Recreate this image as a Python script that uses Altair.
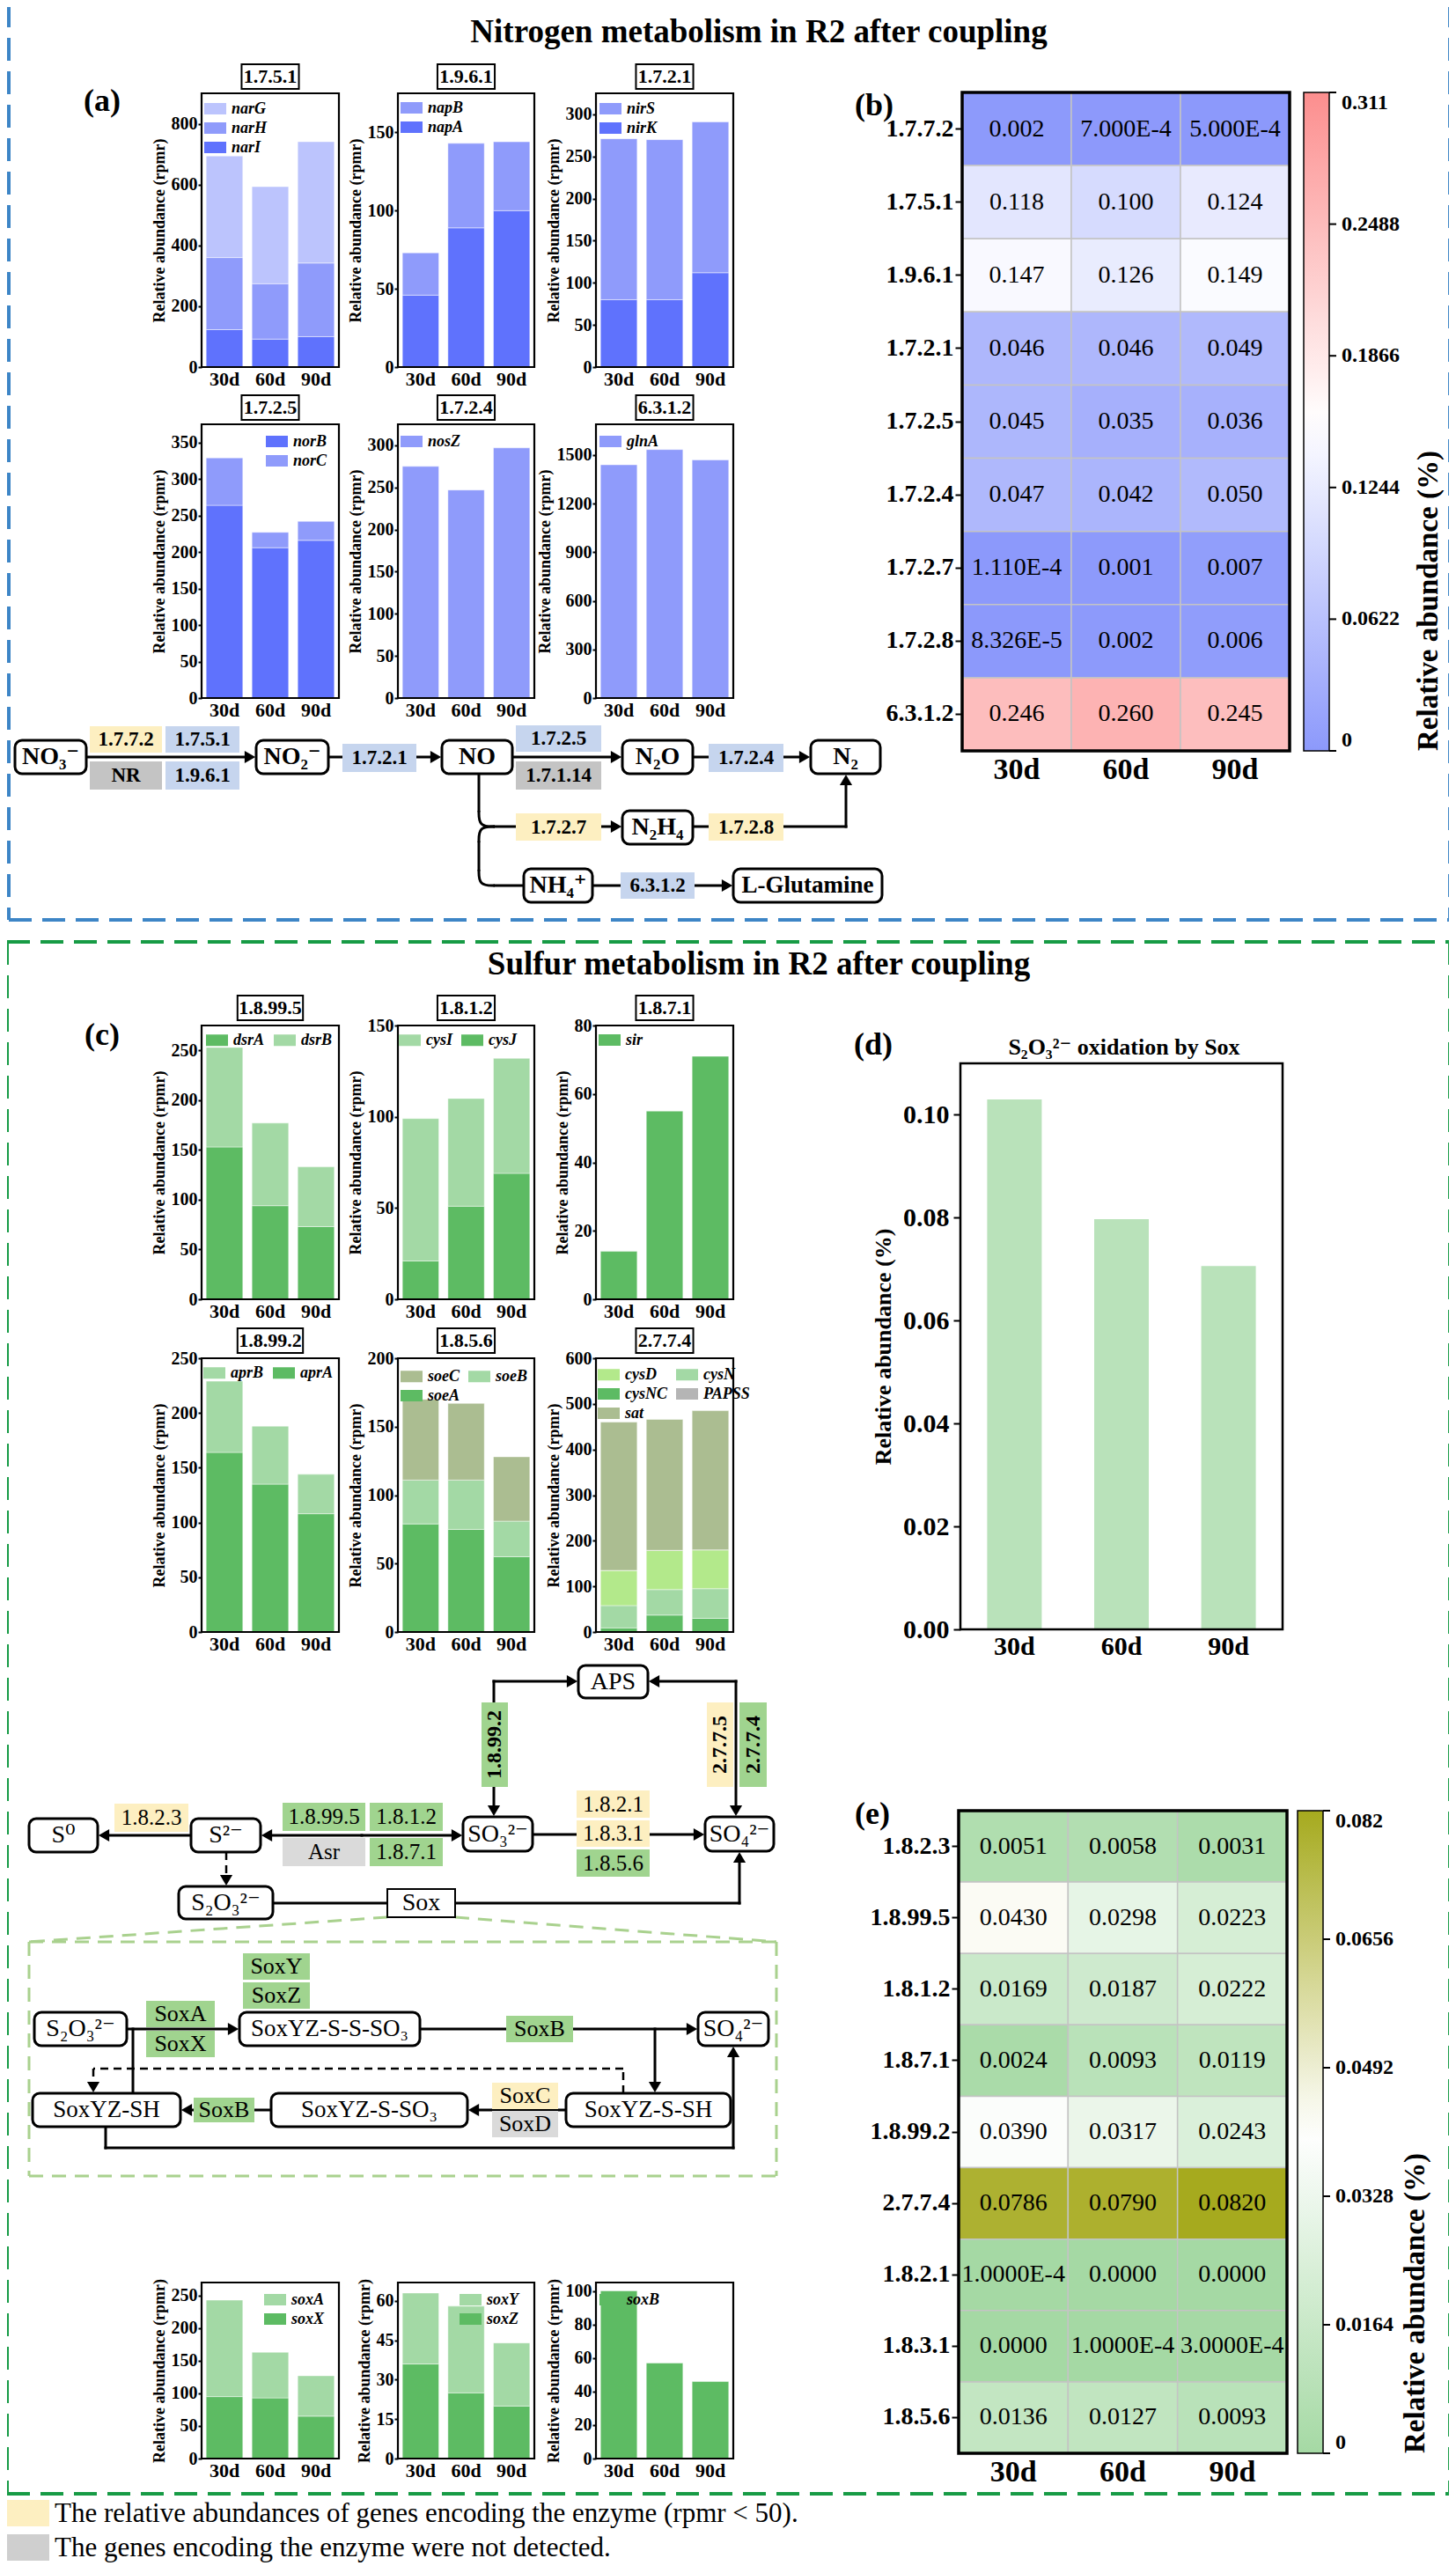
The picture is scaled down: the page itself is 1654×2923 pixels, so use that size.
import altair as alt
import pandas as pd

FONT = "Liberation Serif, Times New Roman, DejaVu Serif, serif"
DAYS = ["30d", "60d", "90d"]

# ===================== DATA =====================
# (a) nitrogen genes, relative abundance (rpmr); stacked segments
narI = [123, 92, 100]
narH = [237, 182, 242]
narG = [334, 319, 399]
napA = [46, 89, 100]
napB = [27, 54, 44]
nirK = [80, 80, 112]
nirS = [191, 190, 179]
norB = [264, 206, 216]
norC = [65, 21, 26]
nosZ = [275, 247, 297]
glnA = [1440, 1534, 1470]

# (b) nitrogen enzymes, relative abundance (%)
N_EC = ["1.7.7.2", "1.7.5.1", "1.9.6.1", "1.7.2.1", "1.7.2.5", "1.7.2.4", "1.7.2.7", "1.7.2.8", "6.3.1.2"]
N_30d = ["0.002", "0.118", "0.147", "0.046", "0.045", "0.047", "1.110E-4", "8.326E-5", "0.246"]
N_60d = ["7.000E-4", "0.100", "0.126", "0.046", "0.035", "0.042", "0.001", "0.002", "0.260"]
N_90d = ["5.000E-4", "0.124", "0.149", "0.049", "0.036", "0.050", "0.007", "0.006", "0.245"]
N_TICKS = [0, 0.0622, 0.1244, 0.1866, 0.2488, 0.311]

# (c) sulfur genes (rpmr)
dsrA = [153, 94, 73]
dsrB = [100, 83, 60]
cysJ = [21, 51, 69]
cysI = [78, 59, 63]
sir = [14, 55, 71]
aprA = [164, 135, 108]
aprB = [65, 53, 36]
soeA = [79, 75, 55]
soeB = [32, 36, 26]
soeC = [59, 56, 47]
cysNC = [9, 37, 30]
cysN = [49, 56, 65]
cysD = [77, 86, 85]
PAPSS = [0, 0, 0]
sat = [325, 287, 305]
soxX = [95, 93, 65]
soxA = [148, 70, 62]
soxZ = [36, 25, 20]
soxY = [27, 33, 24]
soxB = [100, 57, 46]

# (d) S2O3 oxidation by Sox (%)
SOX_PCT = [0.103, 0.0797, 0.0706]

# (e) sulfur enzymes (%)
S_EC = ["1.8.2.3", "1.8.99.5", "1.8.1.2", "1.8.7.1", "1.8.99.2", "2.7.7.4", "1.8.2.1", "1.8.3.1", "1.8.5.6"]
S_30d = ["0.0051", "0.0430", "0.0169", "0.0024", "0.0390", "0.0786", "1.0000E-4", "0.0000", "0.0136"]
S_60d = ["0.0058", "0.0298", "0.0187", "0.0093", "0.0317", "0.0790", "0.0000", "1.0000E-4", "0.0127"]
S_90d = ["0.0031", "0.0223", "0.0222", "0.0119", "0.0243", "0.0820", "0.0000", "3.0000E-4", "0.0093"]
S_TICKS = [0, 0.0164, 0.0328, 0.0492, 0.0656, 0.082]

# ===================== STYLE =====================
BLUE1, BLUE2, BLUE3 = "#5f72fd", "#8f9bfb", "#bcc4fd"
GRN1, GRN2, OLIVE, LIME, GREY = "#5dbb63", "#a3d9a5", "#abbd91", "#b3e98b", "#b5b5b5"
SOXGRN = "#b9e2ba"
EZ = {"B": "#c6d5ee", "Y": "#fdefc1", "G": "#a0d48f", "R": "#c4c4c4", "L": "#dadada"}
COL = {"narG": BLUE3, "narH": BLUE2, "narI": BLUE1, "napB": BLUE2, "napA": BLUE1,
       "nirS": BLUE2, "nirK": BLUE1, "norB": BLUE1, "norC": BLUE2, "nosZ": BLUE2, "glnA": BLUE2,
       "dsrA": GRN1, "dsrB": GRN2, "cysI": GRN2, "cysJ": GRN1, "sir": GRN1, "aprB": GRN2, "aprA": GRN1,
       "soeC": OLIVE, "soeB": GRN2, "soeA": GRN1, "cysD": LIME, "cysN": GRN2, "cysNC": GRN1,
       "PAPSS": GREY, "sat": OLIVE, "soxA": GRN2, "soxX": GRN1, "soxY": GRN2, "soxZ": GRN1, "soxB": GRN1}

N_PANELS = [
    ("1.7.5.1", [("narI", narI), ("narH", narH), ("narG", narG)], ["narG", "narH", "narI"], 900, [0, 200, 400, 600, 800]),
    ("1.9.6.1", [("napA", napA), ("napB", napB)], ["napB", "napA"], 175, [0, 50, 100, 150]),
    ("1.7.2.1", [("nirK", nirK), ("nirS", nirS)], ["nirS", "nirK"], 325, [0, 50, 100, 150, 200, 250, 300]),
    ("1.7.2.5", [("norB", norB), ("norC", norC)], ["norB", "norC"], 375, [0, 50, 100, 150, 200, 250, 300, 350]),
    ("1.7.2.4", [("nosZ", nosZ)], ["nosZ"], 325, [0, 50, 100, 150, 200, 250, 300]),
    ("6.3.1.2", [("glnA", glnA)], ["glnA"], 1690, [0, 300, 600, 900, 1200, 1500]),
]
S_PANELS = [
    ("1.8.99.5", [("dsrA", dsrA), ("dsrB", dsrB)], ["dsrA", "dsrB"], 275, [0, 50, 100, 150, 200, 250]),
    ("1.8.1.2", [("cysJ", cysJ), ("cysI", cysI)], ["cysI", "cysJ"], 150, [0, 50, 100, 150]),
    ("1.8.7.1", [("sir", sir)], ["sir"], 80, [0, 20, 40, 60, 80]),
    ("1.8.99.2", [("aprA", aprA), ("aprB", aprB)], ["aprB", "aprA"], 250, [0, 50, 100, 150, 200, 250]),
    ("1.8.5.6", [("soeA", soeA), ("soeB", soeB), ("soeC", soeC)], ["soeC", "soeB", "soeA"], 200, [0, 50, 100, 150, 200]),
    ("2.7.7.4", [("cysNC", cysNC), ("cysN", cysN), ("cysD", cysD), ("PAPSS", PAPSS), ("sat", sat)],
     ["cysD", "cysN", "cysNC", "PAPSS", "sat"], 600, [0, 100, 200, 300, 400, 500, 600]),
]
SOX_PANELS = [
    (None, [("soxX", soxX), ("soxA", soxA)], ["soxA", "soxX"], 270, [0, 50, 100, 150, 200, 250]),
    (None, [("soxZ", soxZ), ("soxY", soxY)], ["soxY", "soxZ"], 67, [0, 15, 30, 45, 60]),
    (None, [("soxB", soxB)], ["soxB"], 105, [0, 20, 40, 60, 80, 100]),
]

# ===================== LAYOUT (page pixels) =====================
OFF = 8
W, H = 1638, 2907
RECT_PATH = "M-1,-0.52H1V0.52H-1Z"
PX = [(229, 385), (452, 607), (677, 833)]
N_ROWS_Y = [(106, 417), (482, 793)]
S_ROWS_Y = [(1165, 1476), (1543, 1854)]
SOX_Y = (2593, 2793)
N_LEG = [((232, 111), 0, False), ((455, 110), 0, False), ((681, 111), 0, False),
         ((302, 489), 0, False), ((455, 489), 0, False), ((681, 489), 0, False)]
S_LEG = [((234, 1169), 0, True), ((453, 1169), 0, True), ((680, 1169), 0, False),
         ((231, 1547), 0, True), ((455, 1551), 2, True), ((679, 1549), 2, True)]
SOX_LEG = [((300, 2600), 0, False), ((522, 2600), 0, False), ((681, 2600), 0, False)]
HB = (1093, 1465, 105, 853)
HB_CBAR = 1481
HE = (1089, 1462, 2057, 2787)
HE_CBAR = 1474
DF = (1091, 1457, 1208, 1851)

# ===================== canvas element lists =====================
boxes_round, boxes_flat, boxes_white, frames = [], [], [], []
lines, dlines, glines, blines, grlines, heads, curves = [], [], [], [], [], [], []
txt = {"bc": [], "nc": [], "nl": [], "bl": []}


def T(kind, x, y, t, fs, ang=0):
    txt[kind].append({"x": x, "y": y, "t": t, "fs": fs, "ang": ang})


def arrow(x1, y1, x2, y2, dashed=False):
    L = 14
    if y1 == y2:
        d = 1 if x2 > x1 else -1
        seg = {"x": x1, "y": y1, "x1": x2 - d * L * 0.8, "y1": y2}
        heads.append({"x": x2 - d * L / 2, "y": y2, "s": "triangle-right" if d > 0 else "triangle-left"})
    else:
        d = 1 if y2 > y1 else -1
        seg = {"x": x1, "y": y1, "x1": x2, "y1": y2 - d * L * 0.8}
        heads.append({"x": x2, "y": y2 - d * L / 2, "s": "triangle-down" if d > 0 else "triangle-up"})
    (dlines if dashed else lines).append(seg)


def line(x1, y1, x2, y2, target=None):
    (lines if target is None else target).append({"x": x1, "y": y1, "x1": x2, "y1": y2})


def corner(cid, pts):
    for k, (x, y) in enumerate(pts):
        curves.append({"cid": cid, "k": k, "x": x, "y": y})


def rect_border(x0, y0, x1, y1, target):
    for a in [(x0, y0, x1, y0), (x1, y0, x1, y1), (x0, y1, x1, y1), (x0, y0, x0, y1)]:
        line(*a, target=target)


def sub(x0, x1, y0, y1, t, bold=True, fs=28):
    boxes_round.append({"x": x0, "x1": x1, "y": y0, "y1": y1})
    T("bc" if bold else "nc", (x0 + x1) / 2, (y0 + y1) / 2, t, fs)


def enz(t, x0, x1, y0, y1, c, bold=True, fs=23, ang=0):
    boxes_flat.append({"x": x0, "x1": x1, "y": y0, "y1": y1, "fill": EZ[c]})
    T("bc" if bold else "nc", (x0 + x1) / 2, (y0 + y1) / 2, t, fs, ang)


# ===================== chart builders =====================
def bar_panel(stack, order, ymax, ticks, frame, leg, horiz=False, cols=0):
    x0, x1, yt, yb = frame
    recs = []
    for k, (g, vals) in enumerate(stack):
        for d, v in zip(DAYS, vals):
            recs.append({"day": d, "gene": g, "v": v, "k": k})
    lg = dict(orient="none", legendX=leg[0] - OFF, legendY=leg[1] - OFF, title=None,
              symbolType=RECT_PATH, symbolSize=625, symbolStrokeWidth=0, symbolOpacity=1,
              labelFont=FONT, labelFontSize=18, labelFontStyle="italic", labelFontWeight="bold",
              labelColor="black", rowPadding=-4, columnPadding=10, padding=0, labelOffset=6)
    if horiz:
        lg["direction"] = "horizontal"
    if cols:
        lg["columns"] = cols
    frames.append({"x": x0, "x1": x1, "y": yt, "y1": yb, "sw": 2.2})
    return alt.Chart(pd.DataFrame(recs)).mark_bar(stroke="white", strokeWidth=1, strokeOpacity=0.45).encode(
        x=alt.X("day:N", title=None,
                scale=alt.Scale(domain=DAYS, range=[x0 - OFF, x1 - OFF], paddingInner=0.2, paddingOuter=0.1),
                axis=alt.Axis(orient="bottom", offset=(yb - OFF) - H, ticks=False, domain=False,
                              labelFontSize=22, labelFontWeight="bold", labelPadding=3, labelAngle=0)),
        y=alt.Y("v:Q", stack="zero", title="Relative abundance (rpmr)",
                scale=alt.Scale(domain=[0, ymax], range=[yb - OFF, yt - OFF], nice=False, zero=True),
                axis=alt.Axis(orient="left", offset=-(x0 - OFF), values=ticks, format="d", domain=False,
                              tickSize=4, tickWidth=2, labelFontSize=20, labelFontWeight="bold",
                              labelPadding=1, titleFontSize=18, titleFontWeight="bold", titlePadding=4)),
        color=alt.Color("gene:N", scale=alt.Scale(domain=order, range=[COL[g] for g in order]),
                        legend=alt.Legend(**lg)),
        order=alt.Order("k:Q", sort="ascending"),
    )


def heatmap(rows, cols, frame, cbar_x, dom, rng, lticks, title_x):
    x0, x1, yt, yb = frame
    recs = []
    for r, row in enumerate(rows):
        for d, labs in zip(DAYS, cols):
            recs.append({"row": row, "day": d, "lab": labs[r], "v": float(labs[r])})
    base = alt.Chart(pd.DataFrame(recs)).encode(
        x=alt.X("day:N", title=None,
                scale=alt.Scale(domain=DAYS, range=[x0 - OFF, x1 - OFF], paddingInner=0, paddingOuter=0),
                axis=alt.Axis(orient="bottom", offset=(yb - OFF) - H, ticks=False, domain=False,
                              labelFontSize=34, labelFontWeight="bold", labelPadding=4, labelAngle=0)),
        y=alt.Y("row:N", title=None,
                scale=alt.Scale(domain=rows, range=[yt - OFF, yb - OFF], paddingInner=0, paddingOuter=0),
                axis=alt.Axis(orient="left", offset=-(x0 - OFF), domain=False, tickSize=8, tickWidth=2,
                              labelFontSize=28, labelFontWeight="bold", labelPadding=2)),
    )
    rect = base.mark_rect(stroke="#c4c4c4", strokeWidth=1.5).encode(
        color=alt.Color("v:Q", scale=alt.Scale(domain=dom, range=rng, interpolate="rgb"),
                        legend=alt.Legend(orient="none", legendX=cbar_x - OFF, legendY=yt - OFF,
                                          direction="vertical", gradientLength=yb - yt, gradientThickness=29,
                                          title=None, values=lticks,
                                          labelExpr="format(datum.value, '.4~g')", labelFont=FONT,
                                          labelFontSize=24, labelFontWeight="bold", labelColor="black",
                                          labelOffset=14, labelOverlap=False, gradientStrokeColor="black",
                                          gradientStrokeWidth=1.5, padding=0)))
    text = base.mark_text(font=FONT, fontSize=28, color="black").encode(text="lab:N")
    frames.append({"x": x0, "x1": x1, "y": yt, "y1": yb, "sw": 3.5})
    T("bl", title_x, yb, "Relative abundance (%)", 33, 270)
    cticks = alt.Chart(pd.DataFrame({"v": lticks})).mark_rule(color="black", strokeWidth=2).encode(
        y=alt.Y("v:Q", axis=None,
                scale=alt.Scale(domain=[dom[0], dom[-1]], range=[yb - OFF, yt - OFF], nice=False, zero=False)),
        x=alt.value(cbar_x + 29 - OFF), x2=alt.value(cbar_x + 37 - OFF))
    return alt.layer(rect, text), cticks


layers = []

# ---- nitrogen bar panels
for i, (ec, stack, order, ymax, ticks) in enumerate(N_PANELS):
    r, c = divmod(i, 3)
    x0, x1 = PX[c]
    yt, yb = N_ROWS_Y[r]
    leg, cols, horiz = N_LEG[i]
    layers.append(bar_panel(stack, order, ymax, ticks, (x0, x1, yt, yb), leg, horiz, cols))
    bw = 9.3 * len(ec)
    cx = (x0 + x1) / 2
    boxes_white.append({"x": cx - bw / 2, "x1": cx + bw / 2, "y": yt - 33, "y1": yt - 5})
    T("bc", cx, yt - 19, ec, 22)

# ---- sulfur bar panels
for i, (ec, stack, order, ymax, ticks) in enumerate(S_PANELS):
    r, c = divmod(i, 3)
    x0, x1 = PX[c]
    yt, yb = S_ROWS_Y[r]
    leg, cols, horiz = S_LEG[i]
    layers.append(bar_panel(stack, order, ymax, ticks, (x0, x1, yt, yb), leg, horiz, cols))
    bw = 9.3 * len(ec)
    cx = (x0 + x1) / 2
    boxes_white.append({"x": cx - bw / 2, "x1": cx + bw / 2, "y": yt - 34, "y1": yt - 6})
    T("bc", cx, yt - 20, ec, 22)

# ---- sox bar panels
for i, (ec, stack, order, ymax, ticks) in enumerate(SOX_PANELS):
    x0, x1 = PX[i]
    yt, yb = SOX_Y
    leg, cols, horiz = SOX_LEG[i]
    layers.append(bar_panel(stack, order, ymax, ticks, (x0, x1, yt, yb), leg, horiz, cols))

# ---- heatmaps
hb, hbt = heatmap(N_EC, [N_30d, N_60d, N_90d], HB, HB_CBAR, [0, 0.1555, 0.311],
                  ["#8c99fb", "#ffffff", "#fc8e8e"], N_TICKS, 1623)
he, het = heatmap(S_EC, [S_30d, S_60d, S_90d], HE, HE_CBAR, [0, 0.041, 0.082],
                  ["#a5d9a4", "#ffffff", "#a6aa1e"], S_TICKS, 1608)
layers += [hb, hbt, he, het]

# ---- (d) bars
frames.append({"x": DF[0], "x1": DF[1], "y": DF[2], "y1": DF[3], "sw": 2.5})
layers.append(alt.Chart(pd.DataFrame({"day": DAYS, "v": SOX_PCT})).mark_bar(color=SOXGRN).encode(
    x=alt.X("day:N", title=None,
            scale=alt.Scale(domain=DAYS, range=[DF[0] - OFF, DF[1] - OFF], paddingInner=0.49, paddingOuter=0.25),
            axis=alt.Axis(orient="bottom", offset=(DF[3] - OFF) - H, ticks=False, domain=False,
                          labelFontSize=30, labelFontWeight="bold", labelPadding=4, labelAngle=0)),
    y=alt.Y("v:Q", title="Relative abundance (%)",
            scale=alt.Scale(domain=[0, 0.11], range=[DF[3] - OFF, DF[2] - OFF], nice=False),
            axis=alt.Axis(orient="left", offset=-(DF[0] - OFF), values=[0, 0.02, 0.04, 0.06, 0.08, 0.10],
                          format=".2f", domain=False, tickSize=8, tickWidth=2, labelFontSize=30,
                          labelFontWeight="bold", labelPadding=5, titleFontSize=26, titleFontWeight="bold",
                          titlePadding=9)),
))

# ===================== diagram: nitrogen =====================
sub(17, 98, 841, 879, "NO\u2083\u207b")
sub(291, 373, 841, 879, "NO\u2082\u207b")
sub(502, 582, 841, 879, "NO")
sub(707, 787, 841, 879, "N\u2082O")
sub(921, 1000, 841, 879, "N\u2082")
sub(707, 787, 921, 959, "N\u2082H\u2084")
sub(595, 673, 987, 1025, "NH\u2084\u207a")
sub(833, 1002, 987, 1025, "L-Glutamine", fs=27)
for e in [("1.7.7.2", 102, 184, 825, 855, "Y"), ("1.7.5.1", 188, 272, 825, 855, "B"),
          ("NR", 102, 184, 865, 897, "R"), ("1.9.6.1", 188, 272, 865, 897, "B"),
          ("1.7.2.1", 389, 473, 845, 877, "B"), ("1.7.2.5", 586, 683, 824, 854, "B"),
          ("1.7.1.14", 586, 683, 865, 897, "R"), ("1.7.2.4", 805, 890, 845, 877, "B"),
          ("1.7.2.7", 586, 683, 924, 955, "Y"), ("1.7.2.8", 805, 890, 924, 955, "Y"),
          ("6.3.1.2", 705, 789, 991, 1021, "B")]:
    enz(*e)
arrow(98, 860, 291, 860)
arrow(373, 860, 502, 860)
arrow(582, 860, 707, 860)
arrow(787, 860, 921, 860)
line(544, 879, 544, 921)
corner("a", [(544, 921), (544, 939), (562, 939)])
corner("b", [(544, 957), (544, 939), (562, 939)])
line(544, 957, 544, 988)
corner("c", [(544, 988), (544, 1006), (562, 1006)])
arrow(562, 939, 707, 939)
line(787, 939, 961, 939)
arrow(961, 939, 961, 879)
line(562, 1006, 595, 1006)
arrow(673, 1006, 833, 1006)

# ===================== diagram: sulfur =====================
sub(657, 736, 1892, 1929, "APS", bold=False)
sub(33, 111, 2066, 2104, "S\u2070", bold=False)
sub(217, 296, 2066, 2104, "S\u00b2\u207b", bold=False)
sub(526, 605, 2064, 2103, "SO\u2083\u00b2\u207b", bold=False)
sub(801, 879, 2064, 2103, "SO\u2084\u00b2\u207b", bold=False)
sub(203, 310, 2143, 2180, "S\u2082O\u2083\u00b2\u207b", bold=False)
boxes_white.append({"x": 440, "x1": 517, "y": 2146, "y1": 2178})
T("nc", 478.5, 2162, "Sox", 28)
for e in [("1.8.2.3", 130, 214, 2049, 2081, "Y"), ("1.8.99.5", 321, 415, 2048, 2080, "G"),
          ("1.8.1.2", 420, 503, 2048, 2080, "G"), ("Asr", 321, 415, 2088, 2120, "L"),
          ("1.8.7.1", 420, 503, 2088, 2120, "G"), ("1.8.2.1", 655, 738, 2034, 2065, "Y"),
          ("1.8.3.1", 655, 738, 2068, 2098, "Y"), ("1.8.5.6", 655, 738, 2101, 2132, "G")]:
    enz(*e, bold=False, fs=25)
enz("1.8.99.2", 547, 577, 1934, 2030, "G", True, 24, 270)
enz("2.7.7.5", 803, 833, 1934, 2030, "Y", True, 24, 270)
enz("2.7.7.4", 840, 871, 1934, 2030, "G", True, 24, 270)
arrow(217, 2085, 111, 2085)
arrow(411, 2085, 296, 2085)
arrow(411, 2085, 526, 2085)
arrow(605, 2084, 801, 2084)
arrow(561, 1910, 657, 1910)
arrow(561, 1910, 561, 2064)
arrow(836, 1910, 736, 1910)
arrow(836, 1910, 836, 2064)
arrow(257, 2104, 257, 2143, dashed=True)
line(310, 2162, 440, 2162)
line(517, 2162, 840, 2162)
arrow(840, 2162, 840, 2103)
line(440, 2178, 33, 2206, target=glines)
line(517, 2178, 882, 2206, target=glines)
rect_border(33, 2206, 882, 2472, glines)

# Sox detail
sub(39, 144, 2286, 2324, "S\u2082O\u2083\u00b2\u207b", bold=False)
sub(272, 477, 2286, 2324, "SoxYZ-S-S-SO\u2083", bold=False, fs=27)
sub(793, 873, 2286, 2324, "SO\u2084\u00b2\u207b", bold=False)
sub(37, 205, 2378, 2416, "SoxYZ-SH", bold=False, fs=27)
sub(308, 531, 2378, 2416, "SoxYZ-S-SO\u2083", bold=False, fs=27)
sub(643, 830, 2378, 2416, "SoxYZ-S-SH", bold=False, fs=27)
for e in [("SoxY", 276, 352, 2219, 2249, "G"), ("SoxZ", 276, 352, 2252, 2282, "G"),
          ("SoxA", 166, 244, 2273, 2303, "G"), ("SoxX", 166, 244, 2307, 2337, "G"),
          ("SoxB", 575, 651, 2290, 2320, "G"), ("SoxB", 220, 289, 2383, 2411, "G"),
          ("SoxC", 559, 634, 2366, 2396, "Y"), ("SoxD", 559, 634, 2398, 2428, "L")]:
    enz(*e, bold=False, fs=26)
arrow(144, 2305, 272, 2305)
arrow(477, 2305, 793, 2305)
line(151, 2305, 151, 2378)
arrow(744, 2305, 744, 2378)
arrow(643, 2397, 531, 2397)
arrow(308, 2397, 205, 2397)
line(708, 2378, 708, 2350, target=dlines)
line(708, 2350, 106, 2350, target=dlines)
arrow(106, 2350, 106, 2378, dashed=True)
line(120, 2416, 120, 2440)
line(120, 2440, 833, 2440)
arrow(833, 2440, 833, 2324)

# ===================== titles, labels, borders, key =====================
T("bc", 862, 37, "Nitrogen metabolism in R2 after coupling", 37)
T("bc", 862, 1096, "Sulfur metabolism in R2 after coupling", 37)
T("bc", 116, 115, "(a)", 36)
T("bc", 993, 120, "(b)", 36)
T("bc", 116, 1176, "(c)", 36)
T("bc", 992, 1187, "(d)", 36)
T("bc", 991, 2061, "(e)", 36)
T("bc", 1277, 1190, "S\u2082O\u2083\u00b2\u207b oxidation by Sox", 26)
rect_border(10, 5, 1647, 1045, blines)
rect_border(8, 1070, 1647, 2833, grlines)
boxes_flat.append({"x": 6, "x1": 56, "y": 2840, "y1": 2870, "fill": EZ["Y"]})
boxes_flat.append({"x": 6, "x1": 56, "y": 2879, "y1": 2909, "fill": "#cfcfcf"})
T("nl", 62, 2856, "The relative abundances of genes encoding the enzyme (rpmr < 50).", 31)
T("nl", 62, 2895, "The genes encoding the enzyme were not detected.", 31)

# ===================== canvas charts =====================
CX = alt.Scale(domain=[OFF, W + OFF], range=[0, W], nice=False, zero=False)
CY = alt.Scale(domain=[OFF, H + OFF], range=[0, H], nice=False, zero=False)


def seg_chart(data, **mk):
    return alt.Chart(pd.DataFrame(data)).mark_rule(**mk).encode(
        x=alt.X("x:Q", scale=CX, axis=None), x2="x1:Q",
        y=alt.Y("y:Q", scale=CY, axis=None), y2="y1:Q")


def box_chart(data, **mk):
    return alt.Chart(pd.DataFrame(data)).mark_rect(**mk).encode(
        x=alt.X("x:Q", scale=CX, axis=None), x2="x1:Q",
        y=alt.Y("y:Q", scale=CY, axis=None), y2="y1:Q")


def text_chart(data, align, weight):
    return alt.Chart(pd.DataFrame(data)).mark_text(
        font=FONT, fontWeight=weight, color="black", align=align, baseline="middle").encode(
        x=alt.X("x:Q", scale=CX, axis=None), y=alt.Y("y:Q", scale=CY, axis=None),
        text="t:N", size=alt.Size("fs:Q", scale=None), angle=alt.Angle("ang:Q", scale=None))


canvas = alt.layer(
    seg_chart(lines, color="black", strokeWidth=3, strokeCap="square"),
    alt.Chart(pd.DataFrame(curves)).mark_line(color="black", strokeWidth=3, interpolate="basis").encode(
        x=alt.X("x:Q", scale=CX, axis=None), y=alt.Y("y:Q", scale=CY, axis=None),
        detail="cid:N", order="k:Q"),
    seg_chart(dlines, color="black", strokeWidth=2.5, strokeDash=[9, 6]),
    seg_chart(glines, color="#a9d18e", strokeWidth=3, strokeDash=[16, 10]),
    seg_chart(blines, color="#3d85c6", strokeWidth=4, strokeDash=[26, 12]),
    seg_chart(grlines, color="#179b45", strokeWidth=4, strokeDash=[26, 12]),
    box_chart(boxes_flat).encode(fill=alt.Fill("fill:N", scale=None)),
    box_chart(boxes_round, cornerRadius=8, fill="white", stroke="black", strokeWidth=3),
    box_chart(boxes_white, fill="white", stroke="black", strokeWidth=2),
    box_chart(frames, filled=False, stroke="black").encode(strokeWidth=alt.StrokeWidth("sw:Q", scale=None)),
    alt.Chart(pd.DataFrame(heads)).mark_point(filled=True, color="black", size=200, opacity=1).encode(
        x=alt.X("x:Q", scale=CX, axis=None), y=alt.Y("y:Q", scale=CY, axis=None),
        shape=alt.Shape("s:N", scale=None)),
    text_chart(txt["bc"], "center", "bold"),
    text_chart(txt["nc"], "center", "normal"),
    text_chart(txt["nl"], "left", "normal"),
    text_chart(txt["bl"], "left", "bold"),
)
layers.append(canvas)

chart = alt.layer(*layers).resolve_scale(
    x="independent", y="independent", color="independent"
).properties(
    width=W, height=H, autosize=alt.AutoSizeParams(type="none"), padding=0
).configure(font=FONT).configure_view(stroke=None).configure_axis(
    labelFont=FONT, titleFont=FONT, labelColor="black", titleColor="black",
    tickColor="black", domainColor="black", grid=False
).configure_legend(labelFont=FONT, labelColor="black")

chart.save("out.html", embed_options={"renderer": "svg", "actions": False})
